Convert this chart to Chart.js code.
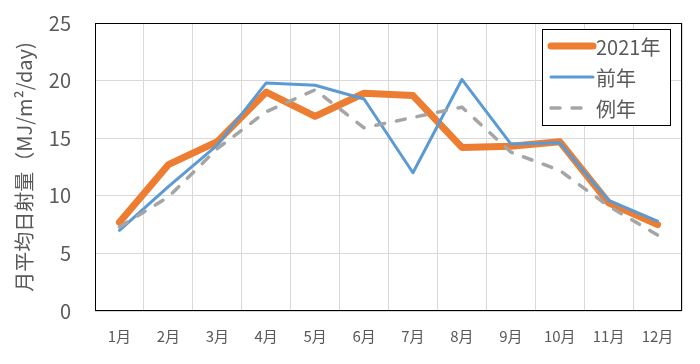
<!DOCTYPE html>
<html>
<head>
<meta charset="utf-8">
<script src="https://cdn.jsdelivr.net/npm/chart.js@4/dist/chart.umd.min.js"></script>
<style>
  html, body { margin: 0; padding: 0; background: #fff; }
</style>
</head>
<body>
<canvas id="chart" width="700" height="364"></canvas>
<script>
const months = ['1月', '2月', '3月', '4月', '5月', '6月', '7月', '8月', '9月', '10月', '11月', '12月'];
const values2021 = [7.7, 12.7, 14.7, 19.0, 16.9, 18.9, 18.7, 14.2, 14.3, 14.7, 9.4, 7.5];
const valuesPrev = [7.0, 10.8, 14.4, 19.8, 19.6, 18.4, 12.0, 20.1, 14.5, 14.6, 9.6, 7.8];
const valuesNormal = [7.3, 9.9, 14.1, 17.3, 19.2, 15.9, 16.8, 17.7, 13.8, 12.2, 9.1, 6.6];
const seriesNames = ['2021年', '前年', '例年'];

const fontFamily = '"Noto Sans CJK JP", "Noto Sans", sans-serif';
const textColor = '#595959';
const gridColor = '#D9D9D9';

// 枠線と凡例を描くプラグイン
const frameAndLegend = {
    id: 'frameAndLegend',
    afterDraw(chart) {
        const { ctx, chartArea } = chart;
        ctx.save();
        ctx.strokeStyle = '#000';
        ctx.lineWidth = 1;
        ctx.strokeRect(chartArea.left + 0.5, chartArea.top + 0.5,
            chartArea.right - chartArea.left - 1, chartArea.bottom - chartArea.top - 1);

        // 凡例
        const boxX = chartArea.right - 140, boxY = chartArea.top + 6;
        const boxW = 128, boxH = 96;
        ctx.fillStyle = '#fff';
        ctx.fillRect(boxX, boxY, boxW, boxH);
        ctx.strokeRect(boxX + 0.5, boxY + 0.5, boxW, boxH);
        ctx.font = '20px ' + fontFamily;
        ctx.textBaseline = 'middle';
        ctx.textAlign = 'left';
        chart.data.datasets.forEach((ds, i) => {
            const y = boxY + 17 + i * 31;
            ctx.beginPath();
            ctx.strokeStyle = ds.borderColor;
            ctx.lineWidth = ds.borderWidth;
            ctx.lineCap = 'round';
            ctx.setLineDash(ds.borderDash || []);
            ctx.moveTo(boxX + 9, y);
            ctx.lineTo(boxX + 51, y);
            ctx.stroke();
            ctx.setLineDash([]);
            ctx.fillStyle = textColor;
            ctx.fillText(ds.label, boxX + 54, y + 1);
        });
        ctx.restore();
    }
};

new Chart(document.getElementById('chart').getContext('2d'), {
    type: 'line',
    data: {
        labels: months,
        datasets: [{
            label: seriesNames[0],
            data: values2021,
            borderColor: '#ED7D31',
            borderWidth: 7,
            order: 3,
        }, {
            label: seriesNames[1],
            data: valuesPrev,
            borderColor: '#5B9BD5',
            borderWidth: 3,
            order: 2,
        }, {
            label: seriesNames[2],
            data: valuesNormal,
            borderColor: '#A5A5A5',
            borderWidth: 3.5,
            borderDash: [9, 12],
            order: 1,
        }]
    },
    options: {
        responsive: false,
        animation: false,
        layout: { padding: { top: 23, right: 18, bottom: 0, left: 0 } },
        elements: {
            point: { radius: 0 },
            line: { tension: 0, borderCapStyle: 'round', borderJoinStyle: 'round', fill: false }
        },
        plugins: {
            legend: { display: false },
            tooltip: { enabled: false }
        },
        scales: {
            x: {
                offset: true,
                grid: { offset: true, color: gridColor, drawTicks: false },
                border: { display: false },
                ticks: { color: textColor, font: { family: fontFamily, size: 15 }, padding: 16, maxRotation: 0 },
                afterFit(scale) { scale.height = 53; }
            },
            y: {
                min: 0,
                max: 25,
                grid: { color: gridColor, drawTicks: false },
                border: { display: false },
                ticks: { stepSize: 5, color: textColor, font: { family: fontFamily, size: 20 }, padding: 24 },
                title: {
                    display: true,
                    text: '月平均日射量（MJ/m²/day)',
                    color: textColor,
                    font: { family: fontFamily, size: 20 },
                    padding: { top: 12, bottom: 0 }
                },
                afterFit(scale) {
                    scale.width = 95;
                    // ticks.padding が上余白に入らないようにする
                    scale.paddingTop = 0;
                    scale.paddingBottom = 0;
                }
            }
        }
    },
    plugins: [frameAndLegend]
});
</script>
</body>
</html>
